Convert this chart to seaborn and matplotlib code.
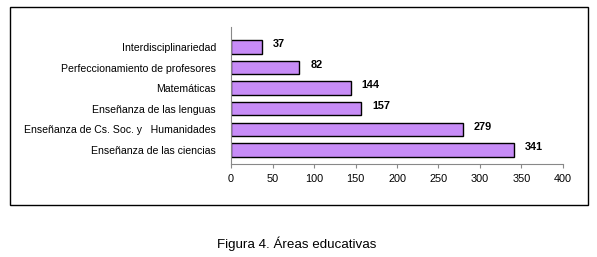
import matplotlib
matplotlib.use("Agg")
import matplotlib.pyplot as plt
import seaborn as sns
import pandas as pd
from matplotlib.patches import Rectangle

categories = ["Interdisciplinariedad", "Perfeccionamiento de profesores", "Matemáticas",
              "Enseñanza de las lenguas", "Enseñanza de Cs. Soc. y   Humanidades",
              "Enseñanza de las ciencias"]
values = [37, 82, 144, 157, 279, 341]
xticks = [0, 50, 100, 150, 200, 250, 300, 350, 400]
caption = "Figura 4. Áreas educativas"

sns.set_style("white")
plt.rcParams['font.family'] = ['Liberation Sans', 'DejaVu Sans']
plt.rcParams['text.color'] = 'black'
plt.rcParams['xtick.color'] = 'black'
plt.rcParams['ytick.color'] = 'black'

df = pd.DataFrame({"cat": categories, "val": values})

fig = plt.figure(figsize=(5.97, 2.57), dpi=100)
ax = fig.add_axes([0.387, 0.362, 0.556, 0.533])
sns.barplot(data=df, x="val", y="cat", orient="h", ax=ax, color="#c78cf7",
            saturation=1, width=0.65, edgecolor="black", linewidth=1.0)

ax.set_xlim(0, 400)
ax.set_ylim(5.68, -0.97)
ax.set_xticks(xticks)
ax.set_xticklabels([str(t) for t in xticks], fontsize=7.8)
ax.set_xlabel("")
ax.set_ylabel("")
ax.tick_params(axis='y', length=0, pad=11, labelsize=7.6, labelcolor="black")
ax.tick_params(axis='x', bottom=True, length=3, width=0.8, color="#888888",
               direction='out', pad=4, labelcolor="black")
for s in ["top", "right"]:
    ax.spines[s].set_visible(False)
for s in ["left", "bottom"]:
    ax.spines[s].set_color("#888888")
    ax.spines[s].set_linewidth(0.8)

for i, v in enumerate(values):
    ax.annotate(str(v), xy=(v, i), xytext=(8, 2), textcoords="offset points",
                va="center", ha="left", fontsize=7.8, fontweight="bold", color="black")

fig.patches.append(Rectangle((10/597, 1-205/257), 578/597, 198/257, transform=fig.transFigure,
                             fill=False, edgecolor="black", linewidth=1.0))
fig.text(297/597, 1-244/257, caption, ha="center", va="center", fontsize=9.6, color="black")

fig.savefig("out.png", dpi=100)
